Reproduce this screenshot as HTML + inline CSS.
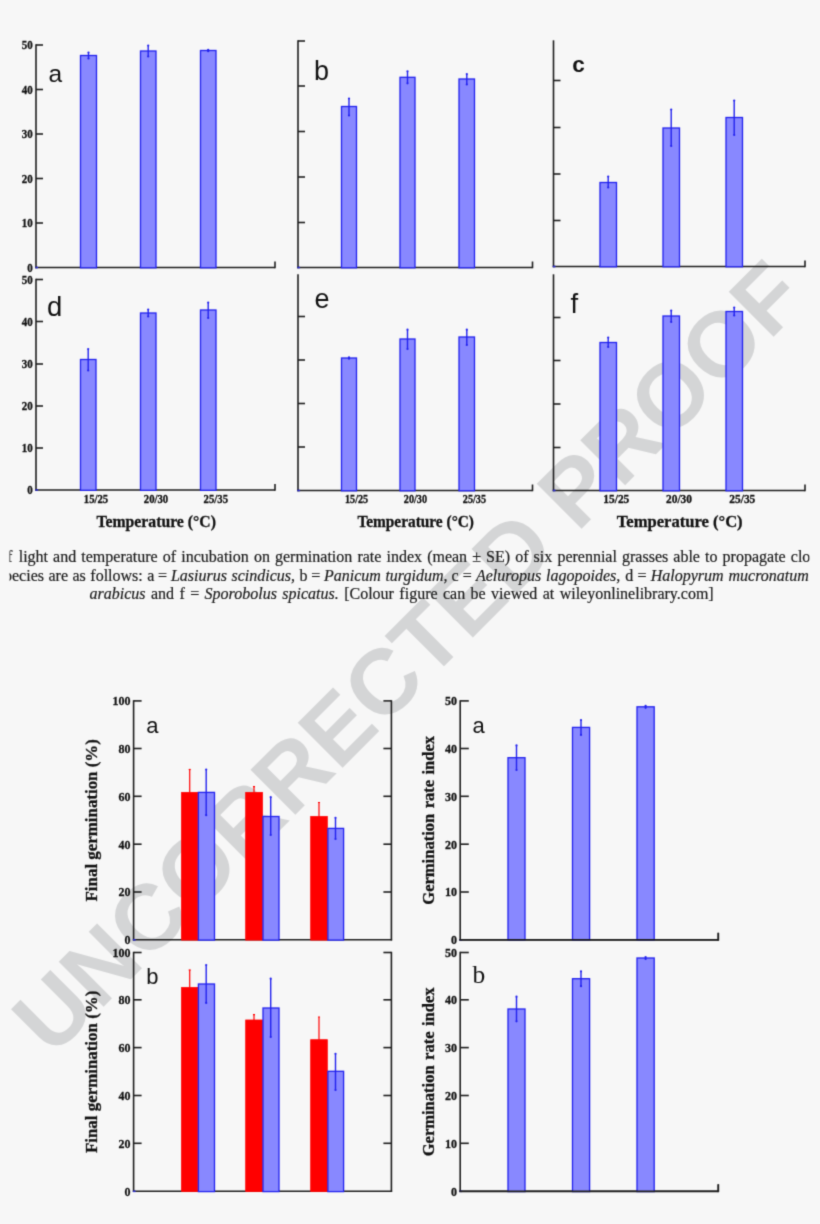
<!DOCTYPE html>
<html lang="en"><head><meta charset="utf-8"><title>Figure</title>
<style>
html,body{margin:0;padding:0;background:#f7f7f7;}
body{width:820px;height:1224px;overflow:hidden;}
svg{display:block;}
</style></head><body>
<svg width="820" height="1224" viewBox="0 0 820 1224">
<filter id="soft" x="0" y="0" width="820" height="1224" filterUnits="userSpaceOnUse" color-interpolation-filters="sRGB"><feConvolveMatrix order="3" kernelMatrix="0.0225 0.1050 0.0225 0.1050 0.4900 0.1050 0.0225 0.1050 0.0225" divisor="1" edgeMode="duplicate" preserveAlpha="true"/></filter>
<g filter="url(#soft)">
<rect x="0" y="0" width="820" height="1224" fill="#f7f7f7"/>
<g id="wm"><text transform="translate(52.1,1058.1) rotate(-45)" font-family='"Liberation Sans", sans-serif' font-weight="bold" font-size="92.2" fill="#d4d5d6">UNCORRECTED PROOF</text></g>
<line x1="36.0" y1="44.3" x2="36.0" y2="268.2" stroke="#1e1e1e" stroke-width="1.6"/>
<line x1="36.0" y1="45.0" x2="43.0" y2="45.0" stroke="#1e1e1e" stroke-width="1.6"/>
<line x1="36.0" y1="89.5" x2="43.0" y2="89.5" stroke="#1e1e1e" stroke-width="1.6"/>
<line x1="36.0" y1="134.0" x2="43.0" y2="134.0" stroke="#1e1e1e" stroke-width="1.6"/>
<line x1="36.0" y1="178.5" x2="43.0" y2="178.5" stroke="#1e1e1e" stroke-width="1.6"/>
<line x1="36.0" y1="223.0" x2="43.0" y2="223.0" stroke="#1e1e1e" stroke-width="1.6"/>
<line x1="35.3" y1="267.5" x2="275.0" y2="267.5" stroke="#1e1e1e" stroke-width="1.6"/>
<line x1="275.0" y1="268.2" x2="275.0" y2="261.5" stroke="#1e1e1e" stroke-width="1.6"/>
<line x1="35.3" y1="267.5" x2="38.0" y2="267.5" stroke="#2a2ad0" stroke-width="1.6"/>
<rect x="80.5" y="55.5" width="16.0" height="212.3" fill="#8888ff" stroke="#2222ee" stroke-width="1.3"/>
<line x1="88.5" y1="52.5" x2="88.5" y2="58.5" stroke="#2222ee" stroke-width="1.4"/>
<circle cx="88.5" cy="52.5" r="1.1" fill="#2222ee"/>
<circle cx="88.5" cy="58.5" r="1.1" fill="#2222ee"/>
<rect x="140.5" y="51.0" width="15.5" height="216.8" fill="#8888ff" stroke="#2222ee" stroke-width="1.3"/>
<line x1="148.2" y1="45.5" x2="148.2" y2="56.5" stroke="#2222ee" stroke-width="1.4"/>
<circle cx="148.2" cy="45.5" r="1.1" fill="#2222ee"/>
<circle cx="148.2" cy="56.5" r="1.1" fill="#2222ee"/>
<rect x="200.5" y="50.5" width="15.5" height="217.3" fill="#8888ff" stroke="#2222ee" stroke-width="1.3"/>
<line x1="208.2" y1="49.8" x2="208.2" y2="51.2" stroke="#2222ee" stroke-width="1.4"/>
<circle cx="208.2" cy="49.8" r="1.1" fill="#2222ee"/>
<circle cx="208.2" cy="51.2" r="1.1" fill="#2222ee"/>
<text x="32.8" y="49.1" font-family='"Liberation Serif", serif' font-size="12.3" font-weight="bold" text-anchor="end" fill="#111" textLength="11.0" lengthAdjust="spacingAndGlyphs" stroke="#111" stroke-width="0.3">50</text>
<text x="32.8" y="93.6" font-family='"Liberation Serif", serif' font-size="12.3" font-weight="bold" text-anchor="end" fill="#111" textLength="11.0" lengthAdjust="spacingAndGlyphs" stroke="#111" stroke-width="0.3">40</text>
<text x="32.8" y="138.1" font-family='"Liberation Serif", serif' font-size="12.3" font-weight="bold" text-anchor="end" fill="#111" textLength="11.0" lengthAdjust="spacingAndGlyphs" stroke="#111" stroke-width="0.3">30</text>
<text x="32.8" y="182.6" font-family='"Liberation Serif", serif' font-size="12.3" font-weight="bold" text-anchor="end" fill="#111" textLength="11.0" lengthAdjust="spacingAndGlyphs" stroke="#111" stroke-width="0.3">20</text>
<text x="32.8" y="227.1" font-family='"Liberation Serif", serif' font-size="12.3" font-weight="bold" text-anchor="end" fill="#111" textLength="11.0" lengthAdjust="spacingAndGlyphs" stroke="#111" stroke-width="0.3">10</text>
<text x="32.8" y="271.6" font-family='"Liberation Serif", serif' font-size="12.3" font-weight="bold" text-anchor="end" fill="#111" textLength="5.5" lengthAdjust="spacingAndGlyphs" stroke="#111" stroke-width="0.3">0</text>
<line x1="298.0" y1="40.3" x2="298.0" y2="268.2" stroke="#1e1e1e" stroke-width="1.6"/>
<line x1="298.0" y1="41.0" x2="305.0" y2="41.0" stroke="#1e1e1e" stroke-width="1.6"/>
<line x1="298.0" y1="86.0" x2="305.0" y2="86.0" stroke="#1e1e1e" stroke-width="1.6"/>
<line x1="298.0" y1="131.5" x2="305.0" y2="131.5" stroke="#1e1e1e" stroke-width="1.6"/>
<line x1="298.0" y1="177.0" x2="305.0" y2="177.0" stroke="#1e1e1e" stroke-width="1.6"/>
<line x1="298.0" y1="222.5" x2="305.0" y2="222.5" stroke="#1e1e1e" stroke-width="1.6"/>
<line x1="297.3" y1="267.5" x2="532.5" y2="267.5" stroke="#1e1e1e" stroke-width="1.6"/>
<line x1="532.5" y1="268.2" x2="532.5" y2="261.5" stroke="#1e1e1e" stroke-width="1.6"/>
<line x1="297.3" y1="267.5" x2="300.0" y2="267.5" stroke="#2a2ad0" stroke-width="1.6"/>
<rect x="341.5" y="106.5" width="15.0" height="161.3" fill="#8888ff" stroke="#2222ee" stroke-width="1.3"/>
<line x1="349.0" y1="98.5" x2="349.0" y2="115.5" stroke="#2222ee" stroke-width="1.4"/>
<circle cx="349.0" cy="98.5" r="1.1" fill="#2222ee"/>
<circle cx="349.0" cy="115.5" r="1.1" fill="#2222ee"/>
<rect x="400.0" y="77.3" width="15.0" height="190.5" fill="#8888ff" stroke="#2222ee" stroke-width="1.3"/>
<line x1="407.5" y1="71.3" x2="407.5" y2="83.3" stroke="#2222ee" stroke-width="1.4"/>
<circle cx="407.5" cy="71.3" r="1.1" fill="#2222ee"/>
<circle cx="407.5" cy="83.3" r="1.1" fill="#2222ee"/>
<rect x="459.0" y="79.0" width="15.5" height="188.8" fill="#8888ff" stroke="#2222ee" stroke-width="1.3"/>
<line x1="466.8" y1="74.0" x2="466.8" y2="84.5" stroke="#2222ee" stroke-width="1.4"/>
<circle cx="466.8" cy="74.0" r="1.1" fill="#2222ee"/>
<circle cx="466.8" cy="84.5" r="1.1" fill="#2222ee"/>
<line x1="553.5" y1="40.3" x2="553.5" y2="267.2" stroke="#1e1e1e" stroke-width="1.6"/>
<line x1="553.5" y1="80.5" x2="560.5" y2="80.5" stroke="#1e1e1e" stroke-width="1.6"/>
<line x1="553.5" y1="127.5" x2="560.5" y2="127.5" stroke="#1e1e1e" stroke-width="1.6"/>
<line x1="553.5" y1="174.0" x2="560.5" y2="174.0" stroke="#1e1e1e" stroke-width="1.6"/>
<line x1="553.5" y1="220.5" x2="560.5" y2="220.5" stroke="#1e1e1e" stroke-width="1.6"/>
<line x1="552.8" y1="266.5" x2="805.0" y2="266.5" stroke="#1e1e1e" stroke-width="1.6"/>
<line x1="805.0" y1="267.2" x2="805.0" y2="260.5" stroke="#1e1e1e" stroke-width="1.6"/>
<line x1="552.8" y1="266.5" x2="555.5" y2="266.5" stroke="#2a2ad0" stroke-width="1.6"/>
<rect x="600.0" y="182.5" width="16.5" height="84.3" fill="#8888ff" stroke="#2222ee" stroke-width="1.3"/>
<line x1="608.2" y1="176.5" x2="608.2" y2="187.5" stroke="#2222ee" stroke-width="1.4"/>
<circle cx="608.2" cy="176.5" r="1.1" fill="#2222ee"/>
<circle cx="608.2" cy="187.5" r="1.1" fill="#2222ee"/>
<rect x="663.0" y="128.0" width="16.5" height="138.8" fill="#8888ff" stroke="#2222ee" stroke-width="1.3"/>
<line x1="671.2" y1="109.5" x2="671.2" y2="146.0" stroke="#2222ee" stroke-width="1.4"/>
<circle cx="671.2" cy="109.5" r="1.1" fill="#2222ee"/>
<circle cx="671.2" cy="146.0" r="1.1" fill="#2222ee"/>
<rect x="726.0" y="117.5" width="16.5" height="149.3" fill="#8888ff" stroke="#2222ee" stroke-width="1.3"/>
<line x1="734.2" y1="100.5" x2="734.2" y2="135.0" stroke="#2222ee" stroke-width="1.4"/>
<circle cx="734.2" cy="100.5" r="1.1" fill="#2222ee"/>
<circle cx="734.2" cy="135.0" r="1.1" fill="#2222ee"/>
<line x1="36.0" y1="278.8" x2="36.0" y2="490.7" stroke="#1e1e1e" stroke-width="1.6"/>
<line x1="36.0" y1="279.5" x2="43.0" y2="279.5" stroke="#1e1e1e" stroke-width="1.6"/>
<line x1="36.0" y1="321.5" x2="43.0" y2="321.5" stroke="#1e1e1e" stroke-width="1.6"/>
<line x1="36.0" y1="364.0" x2="43.0" y2="364.0" stroke="#1e1e1e" stroke-width="1.6"/>
<line x1="36.0" y1="406.0" x2="43.0" y2="406.0" stroke="#1e1e1e" stroke-width="1.6"/>
<line x1="36.0" y1="448.0" x2="43.0" y2="448.0" stroke="#1e1e1e" stroke-width="1.6"/>
<line x1="35.3" y1="490.0" x2="275.0" y2="490.0" stroke="#1e1e1e" stroke-width="1.6"/>
<line x1="275.0" y1="490.7" x2="275.0" y2="484.0" stroke="#1e1e1e" stroke-width="1.6"/>
<line x1="35.3" y1="490.0" x2="38.0" y2="490.0" stroke="#2a2ad0" stroke-width="1.6"/>
<rect x="80.5" y="359.5" width="15.5" height="130.8" fill="#8888ff" stroke="#2222ee" stroke-width="1.3"/>
<line x1="88.2" y1="349.0" x2="88.2" y2="370.5" stroke="#2222ee" stroke-width="1.4"/>
<circle cx="88.2" cy="349.0" r="1.1" fill="#2222ee"/>
<circle cx="88.2" cy="370.5" r="1.1" fill="#2222ee"/>
<rect x="140.5" y="313.0" width="15.5" height="177.3" fill="#8888ff" stroke="#2222ee" stroke-width="1.3"/>
<line x1="148.2" y1="309.5" x2="148.2" y2="316.5" stroke="#2222ee" stroke-width="1.4"/>
<circle cx="148.2" cy="309.5" r="1.1" fill="#2222ee"/>
<circle cx="148.2" cy="316.5" r="1.1" fill="#2222ee"/>
<rect x="200.5" y="310.0" width="15.5" height="180.3" fill="#8888ff" stroke="#2222ee" stroke-width="1.3"/>
<line x1="208.2" y1="302.5" x2="208.2" y2="318.0" stroke="#2222ee" stroke-width="1.4"/>
<circle cx="208.2" cy="302.5" r="1.1" fill="#2222ee"/>
<circle cx="208.2" cy="318.0" r="1.1" fill="#2222ee"/>
<text x="32.8" y="283.6" font-family='"Liberation Serif", serif' font-size="12.3" font-weight="bold" text-anchor="end" fill="#111" textLength="11.0" lengthAdjust="spacingAndGlyphs" stroke="#111" stroke-width="0.3">50</text>
<text x="32.8" y="325.6" font-family='"Liberation Serif", serif' font-size="12.3" font-weight="bold" text-anchor="end" fill="#111" textLength="11.0" lengthAdjust="spacingAndGlyphs" stroke="#111" stroke-width="0.3">40</text>
<text x="32.8" y="368.1" font-family='"Liberation Serif", serif' font-size="12.3" font-weight="bold" text-anchor="end" fill="#111" textLength="11.0" lengthAdjust="spacingAndGlyphs" stroke="#111" stroke-width="0.3">30</text>
<text x="32.8" y="410.1" font-family='"Liberation Serif", serif' font-size="12.3" font-weight="bold" text-anchor="end" fill="#111" textLength="11.0" lengthAdjust="spacingAndGlyphs" stroke="#111" stroke-width="0.3">20</text>
<text x="32.8" y="452.1" font-family='"Liberation Serif", serif' font-size="12.3" font-weight="bold" text-anchor="end" fill="#111" textLength="11.0" lengthAdjust="spacingAndGlyphs" stroke="#111" stroke-width="0.3">10</text>
<text x="32.8" y="494.1" font-family='"Liberation Serif", serif' font-size="12.3" font-weight="bold" text-anchor="end" fill="#111" textLength="5.5" lengthAdjust="spacingAndGlyphs" stroke="#111" stroke-width="0.3">0</text>
<text x="96.0" y="503.3" font-family='"Liberation Serif", serif' font-size="11.8" font-weight="bold" text-anchor="middle" fill="#111" textLength="24.4" lengthAdjust="spacingAndGlyphs" stroke="#111" stroke-width="0.3">15/25</text>
<text x="156.0" y="503.3" font-family='"Liberation Serif", serif' font-size="11.8" font-weight="bold" text-anchor="middle" fill="#111" textLength="24.4" lengthAdjust="spacingAndGlyphs" stroke="#111" stroke-width="0.3">20/30</text>
<text x="215.8" y="503.3" font-family='"Liberation Serif", serif' font-size="11.8" font-weight="bold" text-anchor="middle" fill="#111" textLength="24.4" lengthAdjust="spacingAndGlyphs" stroke="#111" stroke-width="0.3">25/35</text>
<text x="156.2" y="526.5" font-family='"Liberation Serif", serif' font-size="16.3" font-weight="bold" text-anchor="middle" fill="#111" textLength="119.4" lengthAdjust="spacingAndGlyphs" stroke="#111" stroke-width="0.3">Temperature (°C)</text>
<line x1="298.0" y1="274.3" x2="298.0" y2="491.2" stroke="#1e1e1e" stroke-width="1.6"/>
<line x1="298.0" y1="316.5" x2="305.0" y2="316.5" stroke="#1e1e1e" stroke-width="1.6"/>
<line x1="298.0" y1="360.0" x2="305.0" y2="360.0" stroke="#1e1e1e" stroke-width="1.6"/>
<line x1="298.0" y1="403.5" x2="305.0" y2="403.5" stroke="#1e1e1e" stroke-width="1.6"/>
<line x1="298.0" y1="447.0" x2="305.0" y2="447.0" stroke="#1e1e1e" stroke-width="1.6"/>
<line x1="297.3" y1="490.5" x2="532.5" y2="490.5" stroke="#1e1e1e" stroke-width="1.6"/>
<line x1="532.5" y1="491.2" x2="532.5" y2="484.5" stroke="#1e1e1e" stroke-width="1.6"/>
<line x1="297.3" y1="490.5" x2="300.0" y2="490.5" stroke="#2a2ad0" stroke-width="1.6"/>
<rect x="341.5" y="358.0" width="15.0" height="132.8" fill="#8888ff" stroke="#2222ee" stroke-width="1.3"/>
<line x1="349.0" y1="357.3" x2="349.0" y2="358.7" stroke="#2222ee" stroke-width="1.4"/>
<circle cx="349.0" cy="357.3" r="1.1" fill="#2222ee"/>
<circle cx="349.0" cy="358.7" r="1.1" fill="#2222ee"/>
<rect x="400.0" y="339.0" width="15.0" height="151.8" fill="#8888ff" stroke="#2222ee" stroke-width="1.3"/>
<line x1="407.5" y1="329.7" x2="407.5" y2="349.0" stroke="#2222ee" stroke-width="1.4"/>
<circle cx="407.5" cy="329.7" r="1.1" fill="#2222ee"/>
<circle cx="407.5" cy="349.0" r="1.1" fill="#2222ee"/>
<rect x="459.0" y="337.0" width="15.5" height="153.8" fill="#8888ff" stroke="#2222ee" stroke-width="1.3"/>
<line x1="466.8" y1="329.7" x2="466.8" y2="345.0" stroke="#2222ee" stroke-width="1.4"/>
<circle cx="466.8" cy="329.7" r="1.1" fill="#2222ee"/>
<circle cx="466.8" cy="345.0" r="1.1" fill="#2222ee"/>
<text x="356.6" y="503.3" font-family='"Liberation Serif", serif' font-size="11.8" font-weight="bold" text-anchor="middle" fill="#111" textLength="23.2" lengthAdjust="spacingAndGlyphs" stroke="#111" stroke-width="0.3">15/25</text>
<text x="415.4" y="503.3" font-family='"Liberation Serif", serif' font-size="11.8" font-weight="bold" text-anchor="middle" fill="#111" textLength="23.2" lengthAdjust="spacingAndGlyphs" stroke="#111" stroke-width="0.3">20/30</text>
<text x="474.4" y="503.3" font-family='"Liberation Serif", serif' font-size="11.8" font-weight="bold" text-anchor="middle" fill="#111" textLength="23.2" lengthAdjust="spacingAndGlyphs" stroke="#111" stroke-width="0.3">25/35</text>
<text x="415.7" y="526.5" font-family='"Liberation Serif", serif' font-size="16.3" font-weight="bold" text-anchor="middle" fill="#111" textLength="116.6" lengthAdjust="spacingAndGlyphs" stroke="#111" stroke-width="0.3">Temperature (°C)</text>
<line x1="553.5" y1="274.3" x2="553.5" y2="491.2" stroke="#1e1e1e" stroke-width="1.6"/>
<line x1="553.5" y1="317.5" x2="560.5" y2="317.5" stroke="#1e1e1e" stroke-width="1.6"/>
<line x1="553.5" y1="360.5" x2="560.5" y2="360.5" stroke="#1e1e1e" stroke-width="1.6"/>
<line x1="553.5" y1="404.0" x2="560.5" y2="404.0" stroke="#1e1e1e" stroke-width="1.6"/>
<line x1="553.5" y1="447.5" x2="560.5" y2="447.5" stroke="#1e1e1e" stroke-width="1.6"/>
<line x1="552.8" y1="490.5" x2="805.0" y2="490.5" stroke="#1e1e1e" stroke-width="1.6"/>
<line x1="805.0" y1="491.2" x2="805.0" y2="484.5" stroke="#1e1e1e" stroke-width="1.6"/>
<line x1="552.8" y1="490.5" x2="555.5" y2="490.5" stroke="#2a2ad0" stroke-width="1.6"/>
<rect x="600.0" y="342.5" width="16.5" height="148.3" fill="#8888ff" stroke="#2222ee" stroke-width="1.3"/>
<line x1="608.2" y1="337.5" x2="608.2" y2="347.0" stroke="#2222ee" stroke-width="1.4"/>
<circle cx="608.2" cy="337.5" r="1.1" fill="#2222ee"/>
<circle cx="608.2" cy="347.0" r="1.1" fill="#2222ee"/>
<rect x="663.0" y="316.0" width="16.5" height="174.8" fill="#8888ff" stroke="#2222ee" stroke-width="1.3"/>
<line x1="671.2" y1="310.5" x2="671.2" y2="322.0" stroke="#2222ee" stroke-width="1.4"/>
<circle cx="671.2" cy="310.5" r="1.1" fill="#2222ee"/>
<circle cx="671.2" cy="322.0" r="1.1" fill="#2222ee"/>
<rect x="726.0" y="311.5" width="16.5" height="179.3" fill="#8888ff" stroke="#2222ee" stroke-width="1.3"/>
<line x1="734.2" y1="307.5" x2="734.2" y2="315.5" stroke="#2222ee" stroke-width="1.4"/>
<circle cx="734.2" cy="307.5" r="1.1" fill="#2222ee"/>
<circle cx="734.2" cy="315.5" r="1.1" fill="#2222ee"/>
<text x="616.3" y="503.3" font-family='"Liberation Serif", serif' font-size="11.8" font-weight="bold" text-anchor="middle" fill="#111" textLength="26" lengthAdjust="spacingAndGlyphs" stroke="#111" stroke-width="0.3">15/25</text>
<text x="679.0" y="503.3" font-family='"Liberation Serif", serif' font-size="11.8" font-weight="bold" text-anchor="middle" fill="#111" textLength="26" lengthAdjust="spacingAndGlyphs" stroke="#111" stroke-width="0.3">20/30</text>
<text x="742.3" y="503.3" font-family='"Liberation Serif", serif' font-size="11.8" font-weight="bold" text-anchor="middle" fill="#111" textLength="26" lengthAdjust="spacingAndGlyphs" stroke="#111" stroke-width="0.3">25/35</text>
<text x="679.7" y="526.5" font-family='"Liberation Serif", serif' font-size="16.3" font-weight="bold" text-anchor="middle" fill="#111" textLength="125.9" lengthAdjust="spacingAndGlyphs" stroke="#111" stroke-width="0.3">Temperature (°C)</text>
<text x="48.5" y="82.0" font-family='"Liberation Sans", sans-serif' font-size="24.5" font-weight="normal" text-anchor="start" fill="#111" >a</text>
<text x="314.0" y="79.8" font-family='"Liberation Sans", sans-serif' font-size="27" font-weight="normal" text-anchor="start" fill="#111" >b</text>
<text x="572.3" y="71.5" font-family='"Liberation Sans", sans-serif' font-size="22.5" font-weight="bold" text-anchor="start" fill="#111" >c</text>
<text x="47.0" y="316.0" font-family='"Liberation Sans", sans-serif' font-size="27.5" font-weight="normal" text-anchor="start" fill="#111" >d</text>
<text x="314.5" y="308.0" font-family='"Liberation Sans", sans-serif' font-size="27" font-weight="normal" text-anchor="start" fill="#111" >e</text>
<text x="570.5" y="312.5" font-family='"Liberation Sans", sans-serif' font-size="27.5" font-weight="normal" text-anchor="start" fill="#111" >f</text>
<clipPath id="capclip"><rect x="9.5" y="540" width="800" height="70"/></clipPath>
<g clip-path="url(#capclip)" stroke="#1c1c1c" stroke-width="0.2">
<text x="7.1" y="562" font-family='"Liberation Serif", serif' font-size="16" fill="#1c1c1c">f</text>
<text x="18.7" y="562" font-family='"Liberation Serif", serif' font-size="16" fill="#1c1c1c" word-spacing="1.1">light and temperature of incubation on germination rate index (mean ± SE) of six perennial grasses able to propagate clo</text>
<text x="4" y="580.5" font-family='"Liberation Serif", serif' font-size="16" fill="#1c1c1c" word-spacing="0.5">pecies are as follows: a <tspan dx="-0.8">=</tspan> <tspan font-style="italic" dx="-0.7">Lasiurus scindicus</tspan>, b <tspan dx="-0.8">=</tspan> <tspan font-style="italic" dx="-0.7">Panicum turgidum</tspan>,</text>
<text x="808.8" y="580.5" text-anchor="end" font-family='"Liberation Serif", serif' font-size="16" fill="#1c1c1c" word-spacing="0.95">c <tspan dx="-0.8">=</tspan> <tspan font-style="italic" dx="-0.7">Aeluropus lagopoides</tspan>, d <tspan dx="-0.8">=</tspan> <tspan font-style="italic" dx="-0.7">Halopyrum mucronatum</tspan></text>
<text x="89.5" y="599" font-family='"Liberation Serif", serif' font-size="16" fill="#1c1c1c" word-spacing="1.41"><tspan font-style="italic">arabicus</tspan> and f = <tspan font-style="italic">Sporobolus spicatus.</tspan> [Colour figure can be viewed at wileyonlinelibrary.com]</text>
</g>
<line x1="133.6" y1="700.2" x2="133.6" y2="940.5" stroke="#1e1e1e" stroke-width="1.6"/>
<line x1="391.4" y1="700.2" x2="391.4" y2="940.5" stroke="#1e1e1e" stroke-width="1.6"/>
<line x1="133.6" y1="700.9" x2="141.6" y2="700.9" stroke="#1e1e1e" stroke-width="1.6"/>
<line x1="383.4" y1="700.9" x2="391.4" y2="700.9" stroke="#1e1e1e" stroke-width="1.6"/>
<line x1="133.6" y1="748.5" x2="141.6" y2="748.5" stroke="#1e1e1e" stroke-width="1.6"/>
<line x1="383.4" y1="748.5" x2="391.4" y2="748.5" stroke="#1e1e1e" stroke-width="1.6"/>
<line x1="133.6" y1="796.3" x2="141.6" y2="796.3" stroke="#1e1e1e" stroke-width="1.6"/>
<line x1="383.4" y1="796.3" x2="391.4" y2="796.3" stroke="#1e1e1e" stroke-width="1.6"/>
<line x1="133.6" y1="844.2" x2="141.6" y2="844.2" stroke="#1e1e1e" stroke-width="1.6"/>
<line x1="383.4" y1="844.2" x2="391.4" y2="844.2" stroke="#1e1e1e" stroke-width="1.6"/>
<line x1="133.6" y1="892.0" x2="141.6" y2="892.0" stroke="#1e1e1e" stroke-width="1.6"/>
<line x1="383.4" y1="892.0" x2="391.4" y2="892.0" stroke="#1e1e1e" stroke-width="1.6"/>
<line x1="132.9" y1="939.8" x2="392.1" y2="939.8" stroke="#1e1e1e" stroke-width="1.6"/>
<line x1="132.9" y1="939.8" x2="135.6" y2="939.8" stroke="#2a2ad0" stroke-width="1.6"/>
<rect x="181.6" y="792.4" width="16.2" height="147.7" fill="#ff0000" stroke="#ff0000" stroke-width="0.8"/>
<line x1="189.7" y1="769.5" x2="189.7" y2="792.4" stroke="#ff0000" stroke-width="1.2"/>
<line x1="188.7" y1="769.5" x2="190.7" y2="769.5" stroke="#ff0000" stroke-width="1.2"/>
<rect x="198.4" y="792.4" width="16.1" height="147.7" fill="#8888ff" stroke="#2222ee" stroke-width="1.3"/>
<line x1="206.2" y1="769.5" x2="206.2" y2="815.2" stroke="#2222ee" stroke-width="1.4"/>
<circle cx="206.2" cy="769.5" r="1.1" fill="#2222ee"/>
<circle cx="206.2" cy="815.2" r="1.1" fill="#2222ee"/>
<rect x="245.7" y="792.4" width="16.7" height="147.7" fill="#ff0000" stroke="#ff0000" stroke-width="0.8"/>
<line x1="254.0" y1="786.7" x2="254.0" y2="792.4" stroke="#ff0000" stroke-width="1.2"/>
<line x1="253.0" y1="786.7" x2="255.0" y2="786.7" stroke="#ff0000" stroke-width="1.2"/>
<rect x="263.0" y="816.5" width="16.0" height="123.6" fill="#8888ff" stroke="#2222ee" stroke-width="1.3"/>
<line x1="270.7" y1="797.2" x2="270.7" y2="835.0" stroke="#2222ee" stroke-width="1.4"/>
<circle cx="270.7" cy="797.2" r="1.1" fill="#2222ee"/>
<circle cx="270.7" cy="835.0" r="1.1" fill="#2222ee"/>
<rect x="310.7" y="816.5" width="16.6" height="123.6" fill="#ff0000" stroke="#ff0000" stroke-width="0.8"/>
<line x1="319.0" y1="802.5" x2="319.0" y2="816.5" stroke="#ff0000" stroke-width="1.2"/>
<line x1="318.0" y1="802.5" x2="320.0" y2="802.5" stroke="#ff0000" stroke-width="1.2"/>
<rect x="327.9" y="828.4" width="15.7" height="111.7" fill="#8888ff" stroke="#2222ee" stroke-width="1.3"/>
<line x1="335.5" y1="817.8" x2="335.5" y2="839.0" stroke="#2222ee" stroke-width="1.4"/>
<circle cx="335.5" cy="817.8" r="1.1" fill="#2222ee"/>
<circle cx="335.5" cy="839.0" r="1.1" fill="#2222ee"/>
<text x="130.4" y="705.3" font-family='"Liberation Serif", serif' font-size="13.2" font-weight="bold" text-anchor="end" fill="#111" textLength="18.0" lengthAdjust="spacingAndGlyphs" stroke="#111" stroke-width="0.3">100</text>
<text x="130.4" y="752.9" font-family='"Liberation Serif", serif' font-size="13.2" font-weight="bold" text-anchor="end" fill="#111" textLength="12.0" lengthAdjust="spacingAndGlyphs" stroke="#111" stroke-width="0.3">80</text>
<text x="130.4" y="800.7" font-family='"Liberation Serif", serif' font-size="13.2" font-weight="bold" text-anchor="end" fill="#111" textLength="12.0" lengthAdjust="spacingAndGlyphs" stroke="#111" stroke-width="0.3">60</text>
<text x="130.4" y="848.6" font-family='"Liberation Serif", serif' font-size="13.2" font-weight="bold" text-anchor="end" fill="#111" textLength="12.0" lengthAdjust="spacingAndGlyphs" stroke="#111" stroke-width="0.3">40</text>
<text x="130.4" y="896.4" font-family='"Liberation Serif", serif' font-size="13.2" font-weight="bold" text-anchor="end" fill="#111" textLength="12.0" lengthAdjust="spacingAndGlyphs" stroke="#111" stroke-width="0.3">20</text>
<text x="130.4" y="944.2" font-family='"Liberation Serif", serif' font-size="13.2" font-weight="bold" text-anchor="end" fill="#111" textLength="6.0" lengthAdjust="spacingAndGlyphs" stroke="#111" stroke-width="0.3">0</text>
<text transform="translate(96.5,820.3) rotate(-90)" font-family='"Liberation Serif", serif' font-size="16.9" font-weight="bold" text-anchor="middle" fill="#111" stroke="#111" stroke-width="0.3">Final germination (%)</text>
<text x="146.3" y="732.7" font-family='"Liberation Sans", sans-serif' font-size="22" font-weight="normal" text-anchor="start" fill="#111" >a</text>
<line x1="133.6" y1="951.8" x2="133.6" y2="1192.0" stroke="#1e1e1e" stroke-width="1.6"/>
<line x1="391.4" y1="951.8" x2="391.4" y2="1192.0" stroke="#1e1e1e" stroke-width="1.6"/>
<line x1="133.6" y1="952.5" x2="141.6" y2="952.5" stroke="#1e1e1e" stroke-width="1.6"/>
<line x1="383.4" y1="952.5" x2="391.4" y2="952.5" stroke="#1e1e1e" stroke-width="1.6"/>
<line x1="133.6" y1="999.8" x2="141.6" y2="999.8" stroke="#1e1e1e" stroke-width="1.6"/>
<line x1="383.4" y1="999.8" x2="391.4" y2="999.8" stroke="#1e1e1e" stroke-width="1.6"/>
<line x1="133.6" y1="1047.6" x2="141.6" y2="1047.6" stroke="#1e1e1e" stroke-width="1.6"/>
<line x1="383.4" y1="1047.6" x2="391.4" y2="1047.6" stroke="#1e1e1e" stroke-width="1.6"/>
<line x1="133.6" y1="1095.5" x2="141.6" y2="1095.5" stroke="#1e1e1e" stroke-width="1.6"/>
<line x1="383.4" y1="1095.5" x2="391.4" y2="1095.5" stroke="#1e1e1e" stroke-width="1.6"/>
<line x1="133.6" y1="1143.3" x2="141.6" y2="1143.3" stroke="#1e1e1e" stroke-width="1.6"/>
<line x1="383.4" y1="1143.3" x2="391.4" y2="1143.3" stroke="#1e1e1e" stroke-width="1.6"/>
<line x1="132.9" y1="1191.3" x2="392.1" y2="1191.3" stroke="#1e1e1e" stroke-width="1.6"/>
<line x1="132.9" y1="1191.3" x2="135.6" y2="1191.3" stroke="#2a2ad0" stroke-width="1.6"/>
<rect x="181.6" y="987.5" width="16.2" height="204.1" fill="#ff0000" stroke="#ff0000" stroke-width="0.8"/>
<line x1="189.7" y1="970.0" x2="189.7" y2="987.5" stroke="#ff0000" stroke-width="1.2"/>
<line x1="188.7" y1="970.0" x2="190.7" y2="970.0" stroke="#ff0000" stroke-width="1.2"/>
<rect x="198.4" y="984.0" width="16.1" height="207.6" fill="#8888ff" stroke="#2222ee" stroke-width="1.3"/>
<line x1="206.2" y1="965.0" x2="206.2" y2="1002.9" stroke="#2222ee" stroke-width="1.4"/>
<circle cx="206.2" cy="965.0" r="1.1" fill="#2222ee"/>
<circle cx="206.2" cy="1002.9" r="1.1" fill="#2222ee"/>
<rect x="245.7" y="1020.0" width="16.7" height="171.6" fill="#ff0000" stroke="#ff0000" stroke-width="0.8"/>
<line x1="254.0" y1="1014.7" x2="254.0" y2="1020.0" stroke="#ff0000" stroke-width="1.2"/>
<line x1="253.0" y1="1014.7" x2="255.0" y2="1014.7" stroke="#ff0000" stroke-width="1.2"/>
<rect x="263.0" y="1008.0" width="16.0" height="183.6" fill="#8888ff" stroke="#2222ee" stroke-width="1.3"/>
<line x1="270.7" y1="978.7" x2="270.7" y2="1037.0" stroke="#2222ee" stroke-width="1.4"/>
<circle cx="270.7" cy="978.7" r="1.1" fill="#2222ee"/>
<circle cx="270.7" cy="1037.0" r="1.1" fill="#2222ee"/>
<rect x="310.7" y="1039.7" width="16.6" height="151.9" fill="#ff0000" stroke="#ff0000" stroke-width="0.8"/>
<line x1="319.0" y1="1017.0" x2="319.0" y2="1039.7" stroke="#ff0000" stroke-width="1.2"/>
<line x1="318.0" y1="1017.0" x2="320.0" y2="1017.0" stroke="#ff0000" stroke-width="1.2"/>
<rect x="327.9" y="1071.3" width="15.7" height="120.3" fill="#8888ff" stroke="#2222ee" stroke-width="1.3"/>
<line x1="335.5" y1="1053.8" x2="335.5" y2="1090.0" stroke="#2222ee" stroke-width="1.4"/>
<circle cx="335.5" cy="1053.8" r="1.1" fill="#2222ee"/>
<circle cx="335.5" cy="1090.0" r="1.1" fill="#2222ee"/>
<text x="130.4" y="956.9" font-family='"Liberation Serif", serif' font-size="13.2" font-weight="bold" text-anchor="end" fill="#111" textLength="18.0" lengthAdjust="spacingAndGlyphs" stroke="#111" stroke-width="0.3">100</text>
<text x="130.4" y="1004.2" font-family='"Liberation Serif", serif' font-size="13.2" font-weight="bold" text-anchor="end" fill="#111" textLength="12.0" lengthAdjust="spacingAndGlyphs" stroke="#111" stroke-width="0.3">80</text>
<text x="130.4" y="1052.0" font-family='"Liberation Serif", serif' font-size="13.2" font-weight="bold" text-anchor="end" fill="#111" textLength="12.0" lengthAdjust="spacingAndGlyphs" stroke="#111" stroke-width="0.3">60</text>
<text x="130.4" y="1099.9" font-family='"Liberation Serif", serif' font-size="13.2" font-weight="bold" text-anchor="end" fill="#111" textLength="12.0" lengthAdjust="spacingAndGlyphs" stroke="#111" stroke-width="0.3">40</text>
<text x="130.4" y="1147.7" font-family='"Liberation Serif", serif' font-size="13.2" font-weight="bold" text-anchor="end" fill="#111" textLength="12.0" lengthAdjust="spacingAndGlyphs" stroke="#111" stroke-width="0.3">20</text>
<text x="130.4" y="1195.7" font-family='"Liberation Serif", serif' font-size="13.2" font-weight="bold" text-anchor="end" fill="#111" textLength="6.0" lengthAdjust="spacingAndGlyphs" stroke="#111" stroke-width="0.3">0</text>
<text transform="translate(96.5,1071.9) rotate(-90)" font-family='"Liberation Serif", serif' font-size="16.9" font-weight="bold" text-anchor="middle" fill="#111" stroke="#111" stroke-width="0.3">Final germination (%)</text>
<text x="146.3" y="983.5" font-family='"Liberation Sans", sans-serif' font-size="22" font-weight="normal" text-anchor="start" fill="#111" >b</text>
<line x1="460.2" y1="700.2" x2="460.2" y2="940.5" stroke="#1e1e1e" stroke-width="1.6"/>
<line x1="460.2" y1="700.9" x2="468.8" y2="700.9" stroke="#1e1e1e" stroke-width="1.6"/>
<line x1="460.2" y1="748.5" x2="468.8" y2="748.5" stroke="#1e1e1e" stroke-width="1.6"/>
<line x1="460.2" y1="796.3" x2="468.8" y2="796.3" stroke="#1e1e1e" stroke-width="1.6"/>
<line x1="460.2" y1="844.2" x2="468.8" y2="844.2" stroke="#1e1e1e" stroke-width="1.6"/>
<line x1="460.2" y1="892.0" x2="468.8" y2="892.0" stroke="#1e1e1e" stroke-width="1.6"/>
<line x1="459.5" y1="939.8" x2="718.3" y2="939.8" stroke="#1e1e1e" stroke-width="1.6"/>
<line x1="718.3" y1="940.5" x2="718.3" y2="932.8" stroke="#1e1e1e" stroke-width="1.6"/>
<line x1="459.5" y1="939.8" x2="462.2" y2="939.8" stroke="#2a2ad0" stroke-width="1.6"/>
<rect x="508.0" y="757.7" width="17.0" height="182.4" fill="#8888ff" stroke="#2222ee" stroke-width="1.3"/>
<line x1="516.5" y1="745.4" x2="516.5" y2="770.0" stroke="#2222ee" stroke-width="1.4"/>
<circle cx="516.5" cy="745.4" r="1.1" fill="#2222ee"/>
<circle cx="516.5" cy="770.0" r="1.1" fill="#2222ee"/>
<rect x="572.5" y="727.4" width="17.1" height="212.7" fill="#8888ff" stroke="#2222ee" stroke-width="1.3"/>
<line x1="581.0" y1="720.0" x2="581.0" y2="734.9" stroke="#2222ee" stroke-width="1.4"/>
<circle cx="581.0" cy="720.0" r="1.1" fill="#2222ee"/>
<circle cx="581.0" cy="734.9" r="1.1" fill="#2222ee"/>
<rect x="637.0" y="706.8" width="17.2" height="233.3" fill="#8888ff" stroke="#2222ee" stroke-width="1.3"/>
<line x1="645.6" y1="705.8" x2="645.6" y2="707.8" stroke="#2222ee" stroke-width="1.4"/>
<circle cx="645.6" cy="705.8" r="1.1" fill="#2222ee"/>
<circle cx="645.6" cy="707.8" r="1.1" fill="#2222ee"/>
<line x1="459.4" y1="939.8" x2="718.3" y2="939.8" stroke="#1e1e1e" stroke-width="1.8"/>
<line x1="718.3" y1="940.7" x2="718.3" y2="932.8" stroke="#1e1e1e" stroke-width="1.6"/>
<text x="457.0" y="705.3" font-family='"Liberation Serif", serif' font-size="13.2" font-weight="bold" text-anchor="end" fill="#111" textLength="12.0" lengthAdjust="spacingAndGlyphs" stroke="#111" stroke-width="0.3">50</text>
<text x="457.0" y="752.9" font-family='"Liberation Serif", serif' font-size="13.2" font-weight="bold" text-anchor="end" fill="#111" textLength="12.0" lengthAdjust="spacingAndGlyphs" stroke="#111" stroke-width="0.3">40</text>
<text x="457.0" y="800.7" font-family='"Liberation Serif", serif' font-size="13.2" font-weight="bold" text-anchor="end" fill="#111" textLength="12.0" lengthAdjust="spacingAndGlyphs" stroke="#111" stroke-width="0.3">30</text>
<text x="457.0" y="848.6" font-family='"Liberation Serif", serif' font-size="13.2" font-weight="bold" text-anchor="end" fill="#111" textLength="12.0" lengthAdjust="spacingAndGlyphs" stroke="#111" stroke-width="0.3">20</text>
<text x="457.0" y="896.4" font-family='"Liberation Serif", serif' font-size="13.2" font-weight="bold" text-anchor="end" fill="#111" textLength="12.0" lengthAdjust="spacingAndGlyphs" stroke="#111" stroke-width="0.3">10</text>
<text x="457.0" y="944.2" font-family='"Liberation Serif", serif' font-size="13.2" font-weight="bold" text-anchor="end" fill="#111" textLength="6.0" lengthAdjust="spacingAndGlyphs" stroke="#111" stroke-width="0.3">0</text>
<text transform="translate(434,820.3) rotate(-90)" font-family='"Liberation Serif", serif' font-size="16.55" word-spacing="1.3" font-weight="bold" text-anchor="middle" fill="#111" stroke="#111" stroke-width="0.3">Germination rate index</text>
<text x="472.5" y="733.0" font-family='"Liberation Sans", sans-serif' font-size="22" font-weight="normal" text-anchor="start" fill="#111" >a</text>
<line x1="460.2" y1="951.8" x2="460.2" y2="1192.0" stroke="#1e1e1e" stroke-width="1.6"/>
<line x1="460.2" y1="952.5" x2="468.8" y2="952.5" stroke="#1e1e1e" stroke-width="1.6"/>
<line x1="460.2" y1="999.8" x2="468.8" y2="999.8" stroke="#1e1e1e" stroke-width="1.6"/>
<line x1="460.2" y1="1047.6" x2="468.8" y2="1047.6" stroke="#1e1e1e" stroke-width="1.6"/>
<line x1="460.2" y1="1095.5" x2="468.8" y2="1095.5" stroke="#1e1e1e" stroke-width="1.6"/>
<line x1="460.2" y1="1143.3" x2="468.8" y2="1143.3" stroke="#1e1e1e" stroke-width="1.6"/>
<line x1="459.5" y1="1191.3" x2="718.3" y2="1191.3" stroke="#1e1e1e" stroke-width="1.6"/>
<line x1="718.3" y1="1192.0" x2="718.3" y2="1184.3" stroke="#1e1e1e" stroke-width="1.6"/>
<line x1="459.5" y1="1191.3" x2="462.2" y2="1191.3" stroke="#2a2ad0" stroke-width="1.6"/>
<rect x="508.0" y="1009.0" width="17.0" height="182.6" fill="#8888ff" stroke="#2222ee" stroke-width="1.3"/>
<line x1="516.5" y1="996.7" x2="516.5" y2="1021.3" stroke="#2222ee" stroke-width="1.4"/>
<circle cx="516.5" cy="996.7" r="1.1" fill="#2222ee"/>
<circle cx="516.5" cy="1021.3" r="1.1" fill="#2222ee"/>
<rect x="572.5" y="978.7" width="17.1" height="212.9" fill="#8888ff" stroke="#2222ee" stroke-width="1.3"/>
<line x1="581.0" y1="971.3" x2="581.0" y2="986.2" stroke="#2222ee" stroke-width="1.4"/>
<circle cx="581.0" cy="971.3" r="1.1" fill="#2222ee"/>
<circle cx="581.0" cy="986.2" r="1.1" fill="#2222ee"/>
<rect x="637.0" y="958.0" width="17.2" height="233.6" fill="#8888ff" stroke="#2222ee" stroke-width="1.3"/>
<line x1="645.6" y1="957.0" x2="645.6" y2="959.0" stroke="#2222ee" stroke-width="1.4"/>
<circle cx="645.6" cy="957.0" r="1.1" fill="#2222ee"/>
<circle cx="645.6" cy="959.0" r="1.1" fill="#2222ee"/>
<line x1="459.4" y1="1191.3" x2="718.3" y2="1191.3" stroke="#1e1e1e" stroke-width="1.8"/>
<line x1="718.3" y1="1192.2" x2="718.3" y2="1184.3" stroke="#1e1e1e" stroke-width="1.6"/>
<text x="457.0" y="956.9" font-family='"Liberation Serif", serif' font-size="13.2" font-weight="bold" text-anchor="end" fill="#111" textLength="12.0" lengthAdjust="spacingAndGlyphs" stroke="#111" stroke-width="0.3">50</text>
<text x="457.0" y="1004.2" font-family='"Liberation Serif", serif' font-size="13.2" font-weight="bold" text-anchor="end" fill="#111" textLength="12.0" lengthAdjust="spacingAndGlyphs" stroke="#111" stroke-width="0.3">40</text>
<text x="457.0" y="1052.0" font-family='"Liberation Serif", serif' font-size="13.2" font-weight="bold" text-anchor="end" fill="#111" textLength="12.0" lengthAdjust="spacingAndGlyphs" stroke="#111" stroke-width="0.3">30</text>
<text x="457.0" y="1099.9" font-family='"Liberation Serif", serif' font-size="13.2" font-weight="bold" text-anchor="end" fill="#111" textLength="12.0" lengthAdjust="spacingAndGlyphs" stroke="#111" stroke-width="0.3">20</text>
<text x="457.0" y="1147.7" font-family='"Liberation Serif", serif' font-size="13.2" font-weight="bold" text-anchor="end" fill="#111" textLength="12.0" lengthAdjust="spacingAndGlyphs" stroke="#111" stroke-width="0.3">10</text>
<text x="457.0" y="1195.7" font-family='"Liberation Serif", serif' font-size="13.2" font-weight="bold" text-anchor="end" fill="#111" textLength="6.0" lengthAdjust="spacingAndGlyphs" stroke="#111" stroke-width="0.3">0</text>
<text transform="translate(434,1071.9) rotate(-90)" font-family='"Liberation Serif", serif' font-size="16.55" word-spacing="1.3" font-weight="bold" text-anchor="middle" fill="#111" stroke="#111" stroke-width="0.3">Germination rate index</text>
<text x="472.5" y="983.0" font-family='"Liberation Serif", serif' font-size="25.5" font-weight="normal" text-anchor="start" fill="#111" >b</text>
</g>
</svg>
</body></html>
